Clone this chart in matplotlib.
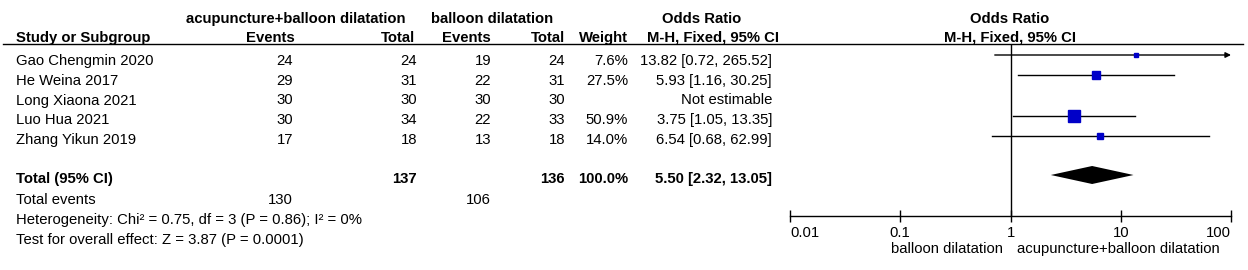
import matplotlib.pyplot as plt
import numpy as np

plt.rcParams['font.family'] = ['Liberation Sans', 'DejaVu Sans']

# data
studies = ["Gao Chengmin 2020", "He Weina 2017", "Long Xiaona 2021", "Luo Hua 2021", "Zhang Yikun 2019"]
exp_events = [24, 29, 30, 30, 17]
exp_total = [24, 31, 30, 34, 18]
ctl_events = [19, 22, 30, 22, 13]
ctl_total = [24, 31, 30, 33, 18]
weights = [7.6, 27.5, np.nan, 50.9, 14.0]
odds = [13.82, 5.93, np.nan, 3.75, 6.54]
ci_low = [0.72, 1.16, np.nan, 1.05, 0.68]
ci_high = [265.52, 30.25, np.nan, 13.35, 62.99]

tot_exp, tot_ctl = 137, 136
tot_exp_events, tot_ctl_events = 130, 106
tot_or, tot_low, tot_high = 5.50, 2.32, 13.05
het_text = "Heterogeneity: Chi\u00b2 = 0.75, df = 3 (P = 0.86); I\u00b2 = 0%"
effect_text = "Test for overall effect: Z = 3.87 (P = 0.0001)"
exp_name = "acupuncture+balloon dilatation"
ctl_name = "balloon dilatation"
ticks = [0.01, 0.1, 1, 10, 100]
tick_labels = ["0.01", "0.1", "1", "10", "100"]

# layout (pixels, y down)
W, H = 1248, 270
mark_y = [55 + 20.25 * i for i in range(len(studies))]
text_y = [65 + 19.75 * i for i in range(len(studies))]
total_y = 175
fs = 10.7

fig = plt.figure(figsize=(W / 100, H / 100), dpi=100)
ax = fig.add_axes([0, 0, 1, 1])
ax.set_xlim(0, W)
ax.set_ylim(H, 0)
ax.axis('off')


def txt(x, y, s, ha='left', bold=False):
    ax.text(x, y, s, ha=ha, va='baseline', fontsize=fs,
            fontweight='bold' if bold else 'normal')


# headers
txt(296, 23, exp_name, 'center', True)
txt(492, 23, ctl_name, 'center', True)
txt(702, 23, "Odds Ratio", 'center', True)
txt(1010, 23, "Odds Ratio", 'center', True)
txt(16, 42, "Study or Subgroup", 'left', True)
txt(295, 42, "Events", 'right', True)
txt(415, 42, "Total", 'right', True)
txt(491, 42, "Events", 'right', True)
txt(565, 42, "Total", 'right', True)
txt(628, 42, "Weight", 'right', True)
txt(713, 42, "M-H, Fixed, 95% CI", 'center', True)
txt(1010, 42, "M-H, Fixed, 95% CI", 'center', True)
ax.plot([3, 1243], [44, 44], color='black', lw=1.0)

# study rows
for i, y in enumerate(text_y):
    txt(16, y, studies[i])
    txt(293, y, str(exp_events[i]), 'right')
    txt(417, y, str(exp_total[i]), 'right')
    txt(491, y, str(ctl_events[i]), 'right')
    txt(565, y, str(ctl_total[i]), 'right')
    if np.isnan(odds[i]):
        txt(772, y, "Not estimable", 'right')
    else:
        txt(628, y, f"{weights[i]:.1f}%", 'right')
        txt(772, y, f"{odds[i]:.2f} [{ci_low[i]:.2f}, {ci_high[i]:.2f}]", 'right')

# totals
txt(16, 183, "Total (95% CI)", 'left', True)
txt(417, 183, str(tot_exp), 'right', True)
txt(565, 183, str(tot_ctl), 'right', True)
txt(628, 183, f"{np.nansum(weights):.1f}%", 'right', True)
txt(772, 183, f"{tot_or:.2f} [{tot_low:.2f}, {tot_high:.2f}]", 'right', True)
txt(16, 204, "Total events")
txt(293, 204, str(tot_exp_events), 'right')
txt(491, 204, str(tot_ctl_events), 'right')
txt(16, 224, het_text)
txt(16, 244, effect_text)

# forest plot
x0, x1, ytop, ybot = 790, 1231, 44, 216
fx = fig.add_axes([x0 / W, (H - ybot) / H, (x1 - x0) / W, (ybot - ytop) / H])
fx.set_xscale('log')
fx.set_xlim(0.01, 100)
fx.set_ylim(ybot, ytop)
fx.patch.set_alpha(0)
for s in ['top', 'right', 'left']:
    fx.spines[s].set_visible(False)
fx.spines['bottom'].set_linewidth(1.0)
fx.set_yticks([])
fx.set_xticks(ticks)
fx.set_xticklabels(tick_labels, fontsize=fs)
fx.minorticks_off()
fx.tick_params(axis='x', direction='inout', length=8, width=1.0, pad=3)
labs = fx.get_xticklabels()
labs[0].set_horizontalalignment('left')
labs[-1].set_horizontalalignment('right')
fx.axvline(1, color='black', lw=1.0)

for i, y in enumerate(mark_y):
    if np.isnan(odds[i]):
        continue
    if ci_high[i] > 100:
        fx.annotate("", xy=(100, y), xytext=(ci_low[i], y),
                    arrowprops=dict(arrowstyle='-|>', color='black', lw=1.0,
                                    mutation_scale=8, shrinkA=0, shrinkB=0))
    else:
        fx.plot([ci_low[i], ci_high[i]], [y, y], color='black', lw=1.0)
    fx.plot(odds[i], y, marker='s', ms=1.15 * np.sqrt(weights[i]),
            color='#0000c8', mec='#0000c8', ls='none', zorder=3)

fx.fill([tot_low, tot_or, tot_high, tot_or], [total_y, total_y - 9, total_y, total_y + 9],
        color='black', lw=0)

txt(1003, 253, ctl_name, 'right')
txt(1017, 253, exp_name, 'left')

fig.savefig("out.png", dpi=100)
